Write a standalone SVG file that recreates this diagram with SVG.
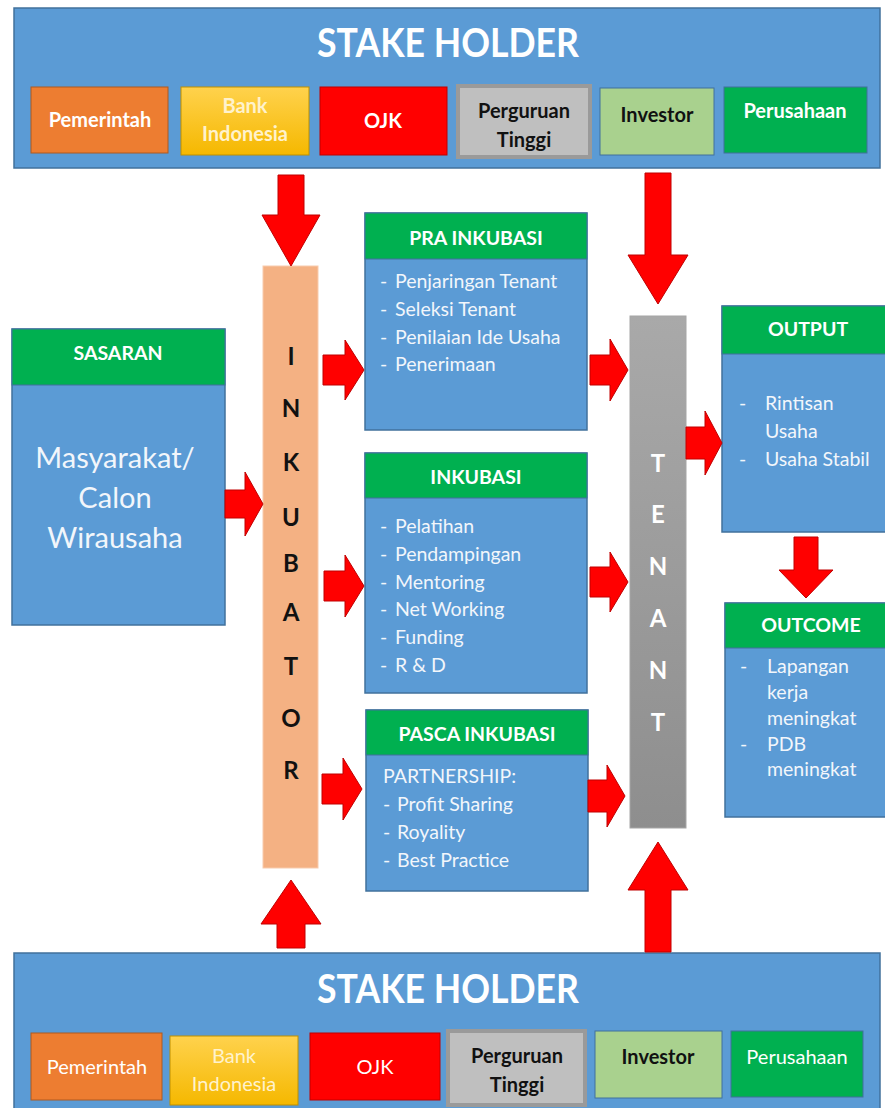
<svg xmlns="http://www.w3.org/2000/svg" width="885" height="1108" viewBox="0 0 885 1108">
  <defs>
    <linearGradient id="gYellow" x1="0" y1="0" x2="0" y2="1">
      <stop offset="0" stop-color="#FFD24D"/>
      <stop offset="1" stop-color="#F5B800"/>
    </linearGradient>
    <linearGradient id="gGray" x1="0" y1="0" x2="0" y2="1">
      <stop offset="0" stop-color="#A9A9A9"/>
      <stop offset="1" stop-color="#8E8E8E"/>
    </linearGradient>
    <style>
      .banner { fill: #5B9BD5; stroke: #41719C; stroke-width: 1.5; }
      .body { fill: #5B9BD5; stroke: #41719C; stroke-width: 1.5; }
      .head { fill: #00B050; stroke: #41719C; stroke-width: 1; }
      .arrow { fill: #FF0000; stroke: #C00000; stroke-width: 1; }
      text { font-family: Lato, "Open Sans", "DejaVu Sans", sans-serif; }
      .title { font-size: 40px; font-weight: bold; fill: #FFFFFF; text-anchor: middle; }
      .sh { font-size: 20px; text-anchor: middle; }
      .b { font-weight: bold; }
      .w { fill: #FFFFFF; }
      .k { fill: #111111; }
      .hd { font-size: 19.5px; font-weight: bold; fill: #FFFFFF; text-anchor: middle; }
      .item { font-size: 19.5px; fill: #F2F6FB; }
      .big { font-size: 29px; fill: #F2F6FB; text-anchor: middle; }
      .col { font-size: 24px; font-weight: bold; text-anchor: middle; }
    </style>
  </defs>

  <!-- Stake holder banner, top -->
  <g id="stakeholder-top">
    <rect class="banner" x="14" y="8" width="866" height="160"/>
    <text class="title" x="448" y="57" textLength="262" lengthAdjust="spacingAndGlyphs">STAKE HOLDER</text>
    <rect x="31" y="87" width="137" height="66" fill="#ED7D31" stroke="#AE5A21"/>
    <text class="sh b w" x="100" y="127">Pemerintah</text>
    <rect x="181" y="87" width="128" height="68" fill="url(#gYellow)" stroke="#BF9000"/>
    <text class="sh b" x="245" y="113" fill="#FFF2CC">Bank</text>
    <text class="sh b" x="245" y="141" fill="#FFF2CC">Indonesia</text>
    <rect x="320" y="87" width="127" height="68" fill="#FF0000" stroke="#C00000"/>
    <text class="sh b w" x="383" y="128">OJK</text>
    <rect x="458" y="86" width="132" height="71" fill="#BFBFBF" stroke="#9A9A9A" stroke-width="4"/>
    <text class="sh b k" x="524" y="118">Perguruan</text>
    <text class="sh b k" x="524" y="147">Tinggi</text>
    <rect x="600" y="88" width="114" height="67" fill="#A9D18E" stroke="#41719C"/>
    <text class="sh b k" x="657" y="122">Investor</text>
    <rect x="724" y="87" width="143" height="66" fill="#00B050" stroke="#41719C"/>
    <text class="sh b w" x="795" y="118">Perusahaan</text>
  </g>

  <!-- Stake holder banner, bottom -->
  <g id="stakeholder-bottom">
    <rect class="banner" x="14" y="953" width="866" height="160"/>
    <text class="title" x="448" y="1003" textLength="262" lengthAdjust="spacingAndGlyphs">STAKE HOLDER</text>
    <rect x="31" y="1033" width="131" height="67" fill="#ED7D31" stroke="#AE5A21"/>
    <text class="sh w" x="97" y="1074">Pemerintah</text>
    <rect x="170" y="1036" width="128" height="69" fill="url(#gYellow)" stroke="#BF9000"/>
    <text class="sh" x="234" y="1063" fill="#FFF2CC">Bank</text>
    <text class="sh" x="234" y="1091" fill="#FFF2CC">Indonesia</text>
    <rect x="310" y="1033" width="130" height="67" fill="#FF0000" stroke="#C00000"/>
    <text class="sh w" x="375" y="1074">OJK</text>
    <rect x="448" y="1031" width="137" height="74" fill="#BFBFBF" stroke="#9A9A9A" stroke-width="4"/>
    <text class="sh b k" x="517" y="1063">Perguruan</text>
    <text class="sh b k" x="517" y="1092">Tinggi</text>
    <rect x="595" y="1031" width="127" height="67" fill="#A9D18E" stroke="#41719C"/>
    <text class="sh b k" x="658" y="1064">Investor</text>
    <rect x="731" y="1031" width="132" height="66" fill="#00B050" stroke="#41719C"/>
    <text class="sh w" x="797" y="1064">Perusahaan</text>
  </g>

  <!-- Sasaran -->
  <g id="sasaran">
    <rect class="body" x="12" y="329" width="213" height="296"/>
    <rect class="head" x="12" y="329" width="213" height="56"/>
    <text class="hd" x="118" y="360">SASARAN</text>
    <text class="big" x="115" y="468">Masyarakat/</text>
    <text class="big" x="115" y="508">Calon</text>
    <text class="big" x="115" y="548">Wirausaha</text>
  </g>

  <!-- Inkubator column -->
  <g id="inkubator">
    <rect x="263" y="266" width="55" height="602" fill="#F4B183" stroke="#F8CBAD"/>
    <text class="col k" x="291" y="365">I</text>
    <text class="col k" x="291" y="417">N</text>
    <text class="col k" x="291" y="471">K</text>
    <text class="col k" x="291" y="526">U</text>
    <text class="col k" x="291" y="572">B</text>
    <text class="col k" x="291" y="621">A</text>
    <text class="col k" x="291" y="675">T</text>
    <text class="col k" x="291" y="727">O</text>
    <text class="col k" x="291" y="779">R</text>
  </g>

  <!-- Pra inkubasi -->
  <g id="pra-inkubasi">
    <rect class="body" x="365" y="213" width="222" height="217"/>
    <rect class="head" x="365" y="213" width="222" height="46"/>
    <text class="hd" x="476" y="245">PRA INKUBASI</text>
    <text class="item" y="288"><tspan x="380">-</tspan><tspan x="395">Penjaringan Tenant</tspan></text>
    <text class="item" y="316"><tspan x="380">-</tspan><tspan x="395">Seleksi Tenant</tspan></text>
    <text class="item" y="344"><tspan x="380">-</tspan><tspan x="395">Penilaian Ide Usaha</tspan></text>
    <text class="item" y="371"><tspan x="380">-</tspan><tspan x="395">Penerimaan</tspan></text>
  </g>

  <!-- Inkubasi -->
  <g id="inkubasi">
    <rect class="body" x="365" y="453" width="222" height="240"/>
    <rect class="head" x="365" y="453" width="222" height="45"/>
    <text class="hd" x="476" y="484">INKUBASI</text>
    <text class="item" y="533"><tspan x="380">-</tspan><tspan x="395">Pelatihan</tspan></text>
    <text class="item" y="561"><tspan x="380">-</tspan><tspan x="395">Pendampingan</tspan></text>
    <text class="item" y="589"><tspan x="380">-</tspan><tspan x="395">Mentoring</tspan></text>
    <text class="item" y="616"><tspan x="380">-</tspan><tspan x="395">Net Working</tspan></text>
    <text class="item" y="644"><tspan x="380">-</tspan><tspan x="395">Funding</tspan></text>
    <text class="item" y="672"><tspan x="380">-</tspan><tspan x="395">R &amp; D</tspan></text>
  </g>

  <!-- Pasca inkubasi -->
  <g id="pasca-inkubasi">
    <rect class="body" x="366" y="710" width="222" height="181"/>
    <rect class="head" x="366" y="710" width="222" height="45"/>
    <text class="hd" x="477" y="741">PASCA INKUBASI</text>
    <text class="item" x="383" y="783">PARTNERSHIP:</text>
    <text class="item" y="811"><tspan x="383">-</tspan><tspan x="397">Profit Sharing</tspan></text>
    <text class="item" y="839"><tspan x="383">-</tspan><tspan x="397">Royality</tspan></text>
    <text class="item" y="867"><tspan x="383">-</tspan><tspan x="397">Best Practice</tspan></text>
  </g>

  <!-- Tenant column -->
  <g id="tenant">
    <rect x="630" y="316" width="56" height="512" fill="url(#gGray)" stroke="#A6A6A6"/>
    <text class="col w" x="658" y="472">T</text>
    <text class="col w" x="658" y="523">E</text>
    <text class="col w" x="658" y="575">N</text>
    <text class="col w" x="658" y="627">A</text>
    <text class="col w" x="658" y="679">N</text>
    <text class="col w" x="658" y="731">T</text>
  </g>

  <!-- Output -->
  <g id="output">
    <rect class="body" x="722" y="306" width="170" height="226"/>
    <rect class="head" x="722" y="306" width="170" height="48"/>
    <text class="hd" x="808" y="336">OUTPUT</text>
    <text class="item" x="739" y="410">-</text>
    <text class="item" x="765" y="410">Rintisan</text>
    <text class="item" x="765" y="438">Usaha</text>
    <text class="item" x="739" y="466">-</text>
    <text class="item" x="765" y="466">Usaha Stabil</text>
  </g>

  <!-- Outcome -->
  <g id="outcome">
    <rect class="body" x="725" y="603" width="167" height="214"/>
    <rect class="head" x="725" y="603" width="167" height="45"/>
    <text class="hd" x="811" y="632">OUTCOME</text>
    <text class="item" x="740" y="673">-</text>
    <text class="item" x="767" y="673">Lapangan</text>
    <text class="item" x="767" y="699">kerja</text>
    <text class="item" x="767" y="725">meningkat</text>
    <text class="item" x="740" y="751">-</text>
    <text class="item" x="767" y="751">PDB</text>
    <text class="item" x="767" y="776">meningkat</text>
  </g>

  <!-- Connectors: block arrows -->
  <g id="connectors">
    <path class="arrow" d="M225 490 H245 V472 L263 504 L245 536 V518 H225 Z"/>
    <path class="arrow" d="M323 355 H345 V340 L364 370 L345 400 V385 H323 Z"/>
    <path class="arrow" d="M324 571 H345 V555 L364 586 L345 617 V601 H324 Z"/>
    <path class="arrow" d="M322 774 H343 V758 L362 789 L343 820 V804 H322 Z"/>
    <path class="arrow" d="M590 355 H610 V339 L628 370 L610 401 V385 H590 Z"/>
    <path class="arrow" d="M590 567 H610 V552 L628 582 L610 612 V597 H590 Z"/>
    <path class="arrow" d="M588 780 H607 V765 L625 796 L607 827 V812 H588 Z"/>
    <path class="arrow" d="M686 427 H705 V411 L722 443 L705 475 V459 H686 Z"/>
    <path class="arrow" d="M278 175 V215 H262 L291 266 L320 215 H304 V175 Z"/>
    <path class="arrow" d="M645 173 V255 H628 L658 304 L688 255 H671 V173 Z"/>
    <path class="arrow" d="M794 537 V570 H779 L806 598 L833 570 H818 V537 Z"/>
    <path class="arrow" d="M277 948 V924 H261 L291 880 L321 924 H305 V948 Z"/>
    <path class="arrow" d="M645 952 V890 H628 L658 842 L688 890 H671 V952 Z"/>
  </g>
</svg>
